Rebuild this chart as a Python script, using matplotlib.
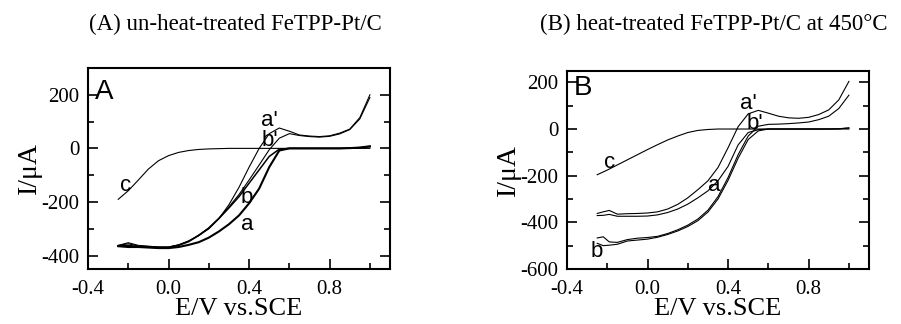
import numpy as np
import matplotlib.pyplot as plt

plt.rcParams['font.family'] = ['Liberation Serif', 'DejaVu Serif']
plt.rcParams['axes.unicode_minus'] = False

# ---- panel A : un-heat-treated FeTPP-Pt/C ----
A_c_E = [-0.25, -0.2, -0.15, -0.1, -0.05, 0.0, 0.05, 0.1, 0.15, 0.2, 0.3, 0.6, 1.0]
A_c_I = [-190, -158, -118, -77, -46, -27, -15, -8, -4, -2, 0, 0, 0]

A_E = [-0.25, -0.2, -0.15, -0.1, -0.05, 0.0, 0.05, 0.1, 0.15, 0.2, 0.25, 0.3, 0.35,
       0.4, 0.45, 0.5, 0.55, 0.6, 0.65, 0.7, 0.75, 0.8, 0.85, 0.9, 0.95, 1.0]
A_a_I = [-365, -368, -368, -370, -372, -372, -368, -360, -350, -333, -310, -283, -250,
         -205, -150, -70, -8, 0, 0, 0, 0, 0, 0, 1, 3, 8]
A_a2_I = [-362, -352, -362, -365, -368, -368, -360, -345, -325, -300, -262, -210, -145,
          -70, 0, 55, 76, 64, 50, 46, 44, 47, 57, 72, 115, 200]
A_b_I = [-365, -362, -366, -368, -370, -370, -362, -348, -325, -298, -262, -222, -180,
         -130, -80, -30, -3, 0, 0, 0, 0, 0, 0, 1, 3, 6]
A_b2_I = [-362, -356, -364, -366, -368, -368, -360, -346, -323, -296, -260, -218, -172,
          -118, -62, -5, 38, 55, 48, 44, 42, 45, 54, 70, 110, 190]

# ---- panel B : heat-treated FeTPP-Pt/C at 450 C ----
B_c_E = [-0.25, -0.2, -0.15, -0.1, -0.05, 0.0, 0.05, 0.1, 0.15, 0.2, 0.25, 0.3, 0.35, 0.6, 1.0]
B_c_I = [-196, -176, -154, -132, -110, -88, -67, -47, -30, -15, -6, -2, 0, 0, 0]

B_E = [-0.25, -0.22, -0.19, -0.15, -0.1, -0.05, 0.0, 0.05, 0.1, 0.15, 0.2, 0.25, 0.3,
       0.35, 0.4, 0.45, 0.5, 0.55, 0.6, 0.65, 0.7, 0.75, 0.8, 0.85, 0.9, 0.95, 1.0]
B_a_I = [-371, -370, -366, -374, -374, -374, -373, -368, -358, -343, -322, -295, -265,
         -222, -160, -68, -15, -3, 0, 0, 0, 0, 0, 0, 0, 1, 5]
B_a2_I = [-362, -355, -349, -365, -363, -362, -360, -355, -343, -323, -295, -260, -222,
          -165, -80, 10, 65, 80, 68, 55, 48, 46, 50, 62, 82, 125, 204]
B_b_I = [-490, -500, -498, -494, -480, -476, -472, -464, -452, -437, -418, -393, -356,
         -300, -220, -125, -45, -8, 0, 0, 0, 0, 0, 0, 0, 1, 4]
B_b2_I = [-467, -462, -484, -486, -474, -468, -465, -460, -448, -432, -412, -386, -348,
          -290, -208, -110, -30, 12, 20, 21, 23, 26, 30, 40, 55, 88, 145]

fig = plt.figure(figsize=(9.01, 3.24), dpi=100)
axA = fig.add_axes([0.0977, 0.1698, 0.3352, 0.6204])
axB = fig.add_axes([0.6293, 0.1698, 0.3352, 0.612])

lw = 0.8
axA.plot(A_c_E, A_c_I, color='black', lw=lw)
axA.plot(A_E, A_a_I, color='black', lw=1.5)
axA.plot(A_E, A_a2_I, color='black', lw=lw)
axA.plot(A_E, A_b_I, color='black', lw=1.1)
axA.plot(A_E, A_b2_I, color='black', lw=lw)

axB.plot(B_c_E, B_c_I, color='black', lw=lw)
axB.plot(B_E, B_a_I, color='black', lw=lw)
axB.plot(B_E, B_a2_I, color='black', lw=lw)
axB.plot(B_E, B_b_I, color='black', lw=lw)
axB.plot(B_E, B_b2_I, color='black', lw=lw)

for ax, ylim in [(axA, (-450, 300)), (axB, (-600, 250))]:
    ax.set_xlim(-0.4, 1.1)
    ax.set_ylim(*ylim)
    ax.set_xticks([-0.4, 0.0, 0.4, 0.8])
    ax.set_xticklabels(['-0.4', '0.0', '0.4', '0.8'])
    ax.set_xticks([-0.2, 0.2, 0.6, 1.0], minor=True)
    ax.yaxis.set_major_locator(plt.MultipleLocator(200))
    ax.yaxis.set_minor_locator(plt.MultipleLocator(100))
    ax.tick_params(which='both', direction='in', top=False, right=True, labelsize=15, width=1.2)
    ax.tick_params(axis='x', which='major', pad=8)
    ax.tick_params(axis='y', which='major', pad=6)
    ax.tick_params(which='major', length=7)
    ax.tick_params(which='minor', length=4)
    for s in ax.spines.values():
        s.set_linewidth(1.5)
    ax.set_xlabel('E/V vs.SCE', fontsize=19, labelpad=-1)
    ax.set_ylabel('I/\u03bcA', fontsize=20, labelpad=0)

sans = ['Liberation Sans', 'DejaVu Sans']
axA.text(-0.365, 210, 'A', family=sans, fontsize=20, va='center')
axA.text(0.46, 105, "a'", family=sans, fontsize=16, va='center')
axA.text(0.46, 30, "b'", family=sans, fontsize=16, va='center')
axA.text(0.36, -185, 'b', family=sans, fontsize=16, va='center')
axA.text(0.36, -285, 'a', family=sans, fontsize=16, va='center')
axA.text(-0.24, -140, 'c', family=sans, fontsize=16, va='center')

axB.text(-0.365, 175, 'B', family=sans, fontsize=20, va='center')
axB.text(0.46, 110, "a'", family=sans, fontsize=16, va='center')
axB.text(0.49, 25, "b'", family=sans, fontsize=16, va='center')
axB.text(0.3, -240, 'a', family=sans, fontsize=16, va='center')
axB.text(-0.285, -525, 'b', family=sans, fontsize=16, va='center')
axB.text(-0.215, -145, 'c', family=sans, fontsize=16, va='center')

fig.text(0.261, 0.923, '(A) un-heat-treated FeTPP-Pt/C', ha='center', va='center', fontsize=16.5)
fig.text(0.792, 0.923, '(B) heat-treated FeTPP-Pt/C at 450\u00b0C', ha='center', va='center', fontsize=16.5)

fig.savefig('out.png', dpi=100)
